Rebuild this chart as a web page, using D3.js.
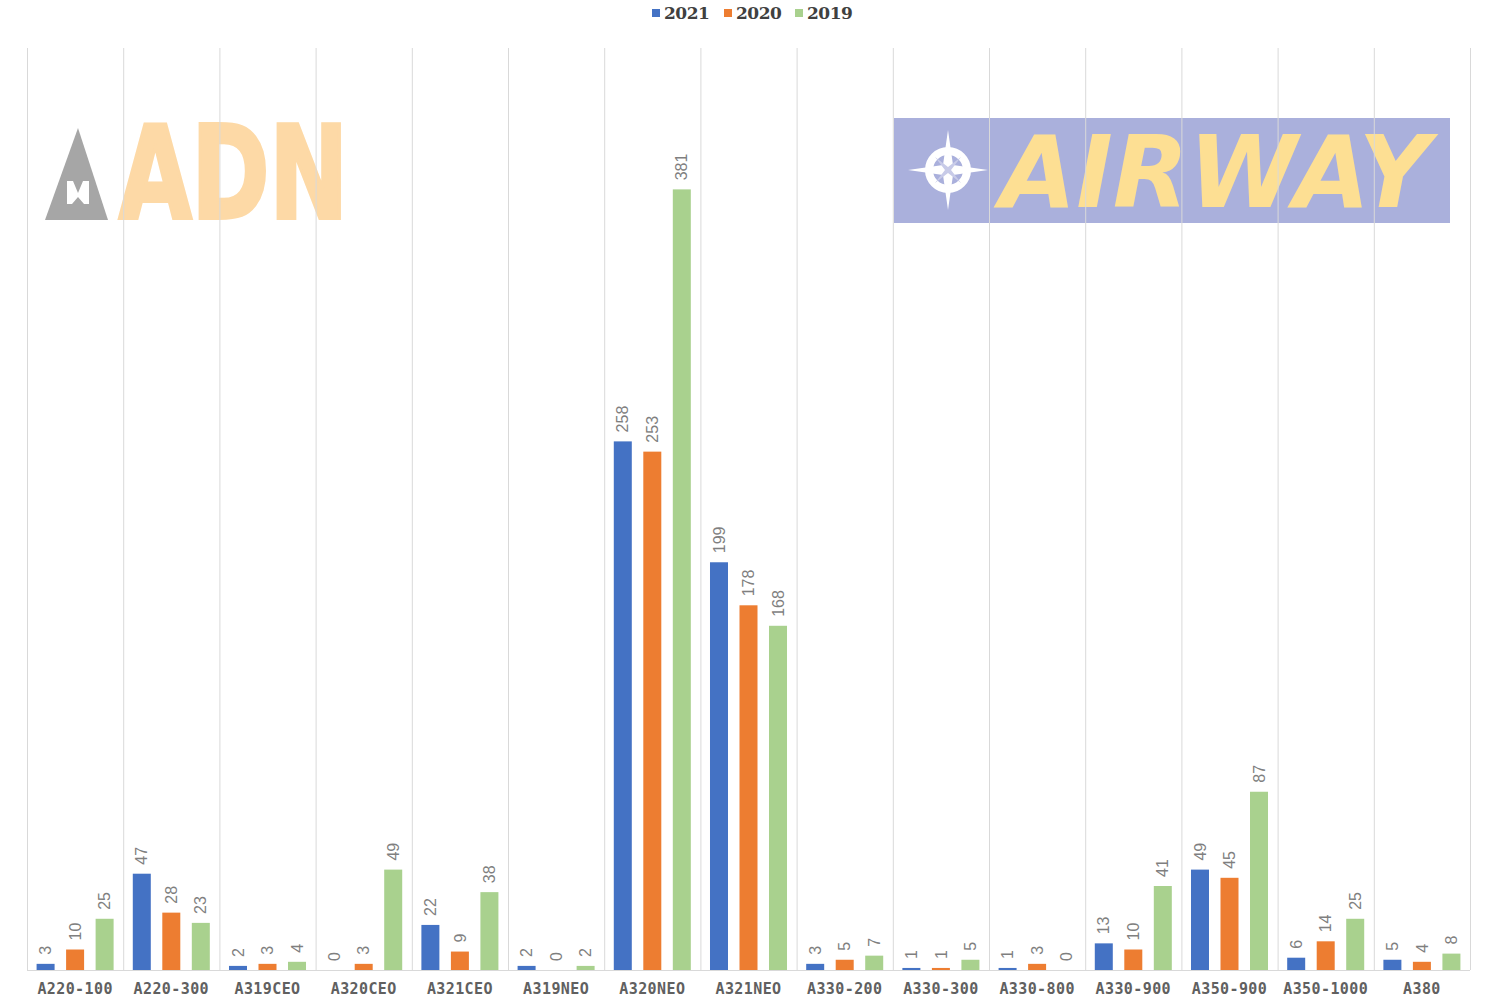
<!DOCTYPE html>
<html>
<head>
	<title></title>
	<script src="https://d3js.org/d3.v7.min.js"></script>
	<style>
		body { margin: 0; background: #fff; }
		.axis .domain { display: none; }
		.axis line { display: none; }
		.axis text {
			font-family: "DejaVu Sans Mono", monospace;
			font-size: 15px;
			font-weight: bold;
			fill: #606060;
			letter-spacing: 0.4px;
		}
		.label {
			font-family: "Liberation Sans", Arial, sans-serif;
			font-size: 16px;
			fill: #7f7f7f;
		}
	</style>
</head>
<body>
	<svg width="1500" height="1000"></svg>
<script type="text/javascript">

	var categories = ["A220-100", "A220-300", "A319CEO", "A320CEO", "A321CEO", "A319NEO", "A320NEO", "A321NEO",
		"A330-200", "A330-300", "A330-800", "A330-900", "A350-900", "A350-1000", "A380"];
	var keys = ["2021", "2020", "2019"];
	var v2021 = [3, 47, 2, 0, 22, 2, 258, 199, 3, 1, 1, 13, 49, 6, 5];
	var v2020 = [10, 28, 3, 3, 9, 0, 253, 178, 5, 1, 3, 10, 45, 14, 4];
	var v2019 = [25, 23, 4, 49, 38, 2, 381, 168, 7, 5, 0, 41, 87, 25, 8];
	var colors = ["#4472c4", "#ed7d31", "#a9d18e"];

	var series = [v2021, v2020, v2019];
	var data = categories.map(function (c, i) {
		var d = { cat: c };
		keys.forEach(function (k, j) { d[k] = series[j][i]; });
		return d;
	});

	var svg = d3.select("svg"),
		plotLeft = 27, plotRight = 1470, plotTop = 48, plotBottom = 970;

	var x0 = d3.scaleBand().domain(categories).range([plotLeft, plotRight]).padding(0);
	var x1 = d3.scaleBand().domain(keys).range([0, x0.bandwidth()])
		.paddingInner(0.39).paddingOuter(0.325);
	var y = d3.scaleLinear().domain([0, 450]).range([plotBottom, plotTop]);
	var z = d3.scaleOrdinal().domain(keys).range(colors);

	// logos (background watermarks)
	var logos = svg.append("g");
	// ADN
	logos.append("path")
		.attr("d", "M78,128 L108,220 L45,220 Z")
		.attr("fill", "#a6a6a6");
	logos.append("path")
		.attr("d", "M67,181 L73,181 L78,193 L83,181 L89,181 L89,204 L84,204 L78,197 L72,204 L67,204 Z")
		.attr("fill", "#ffffff");
	logos.append("text")
		.attr("x", 119).attr("y", 218)
		.attr("font-family", "DejaVu Sans, sans-serif")
		.attr("font-weight", "bold")
		.attr("font-size", 128)
		.attr("textLength", 229)
		.attr("lengthAdjust", "spacingAndGlyphs")
		.attr("fill", "#fdd9a6")
		.attr("stroke", "#fdd9a6")
		.attr("stroke-width", 4)
		.attr("stroke-linejoin", "miter")
		.text("ADN");
	// AIRWAY
	logos.append("rect")
		.attr("x", 894).attr("y", 118).attr("width", 556).attr("height", 105)
		.attr("fill", "#aab0dc");
	var cp = logos.append("g").attr("transform", "translate(948,170)");
	cp.append("circle").attr("r", 19).attr("fill", "none").attr("stroke", "#ffffff").attr("stroke-width", 8);
	cp.append("path")
		.attr("d", "M0,-40 L5,-5 L40,0 L5,5 L0,40 L-5,5 L-40,0 L-5,-5 Z")
		.attr("fill", "#ffffff");
	cp.append("path")
		.attr("d", "M-13,-13 L0,-3 L13,-13 L3,0 L13,13 L0,3 L-13,13 L-3,0 Z")
		.attr("fill", "#c8cbe8");
	logos.append("text")
		.attr("x", 1000).attr("y", 207)
		.attr("font-family", "DejaVu Sans, sans-serif")
		.attr("font-weight", "bold")
		.attr("font-style", "italic")
		.attr("font-size", 100)
		.attr("textLength", 430)
		.attr("lengthAdjust", "spacingAndGlyphs")
		.attr("fill", "#fddf93")
		.text("AIRWAY");

	// vertical gridlines at category boundaries
	var bounds = categories.map(function (c) { return x0(c); }).concat([plotRight]);
	svg.append("g")
		.selectAll("line")
		.data(bounds)
		.enter().append("line")
		.attr("x1", function (d) { return d + 0.5; })
		.attr("x2", function (d) { return d + 0.5; })
		.attr("y1", plotTop)
		.attr("y2", plotBottom)
		.attr("stroke", "#d9d9d9")
		.attr("stroke-width", 1);

	// bars
	var groups = svg.append("g")
		.selectAll("g")
		.data(data)
		.enter().append("g")
		.attr("transform", function (d) { return "translate(" + x0(d.cat) + ",0)"; });

	groups.selectAll("rect")
		.data(function (d) { return keys.map(function (k) { return { key: k, value: d[k] }; }); })
		.enter().append("rect")
		.attr("x", function (d) { return x1(d.key); })
		.attr("y", function (d) { return y(d.value); })
		.attr("width", x1.bandwidth())
		.attr("height", function (d) { return y(0) - y(d.value); })
		.attr("fill", function (d) { return z(d.key); });

	groups.selectAll("text")
		.data(function (d) { return keys.map(function (k) { return { key: k, value: d[k] }; }); })
		.enter().append("text")
		.attr("class", "label")
		.attr("transform", function (d) {
			return "translate(" + (x1(d.key) + x1.bandwidth() / 2) + "," + (y(d.value) - 9) + ") rotate(-90)";
		})
		.attr("dy", "0.35em")
		.attr("text-anchor", "start")
		.text(function (d) { return d.value; });

	// baseline
	svg.append("line")
		.attr("x1", plotLeft).attr("x2", plotRight)
		.attr("y1", plotBottom + 0.5).attr("y2", plotBottom + 0.5)
		.attr("stroke", "#d9d9d9");

	svg.append("g")
		.attr("class", "axis")
		.attr("transform", "translate(0," + plotBottom + ")")
		.call(d3.axisBottom(x0).tickSize(0).tickPadding(13));

	// legend
	var legendX = [652, 724, 795];
	var legend = svg.append("g")
		.selectAll("g")
		.data(keys)
		.enter().append("g")
		.attr("transform", function (d, i) { return "translate(" + legendX[i] + ",0)"; });

	legend.append("rect")
		.attr("x", 0).attr("y", 9)
		.attr("width", 8).attr("height", 8)
		.attr("fill", z);

	legend.append("text")
		.attr("x", 12)
		.attr("y", 13)
		.attr("dy", "0.35em")
		.attr("font-family", "DejaVu Serif, serif")
		.attr("font-weight", "bold")
		.attr("font-size", 17)
		.attr("letter-spacing", -0.5)
		.attr("fill", "#404040")
		.text(function (d) { return d; });

</script>
</body>
</html>
